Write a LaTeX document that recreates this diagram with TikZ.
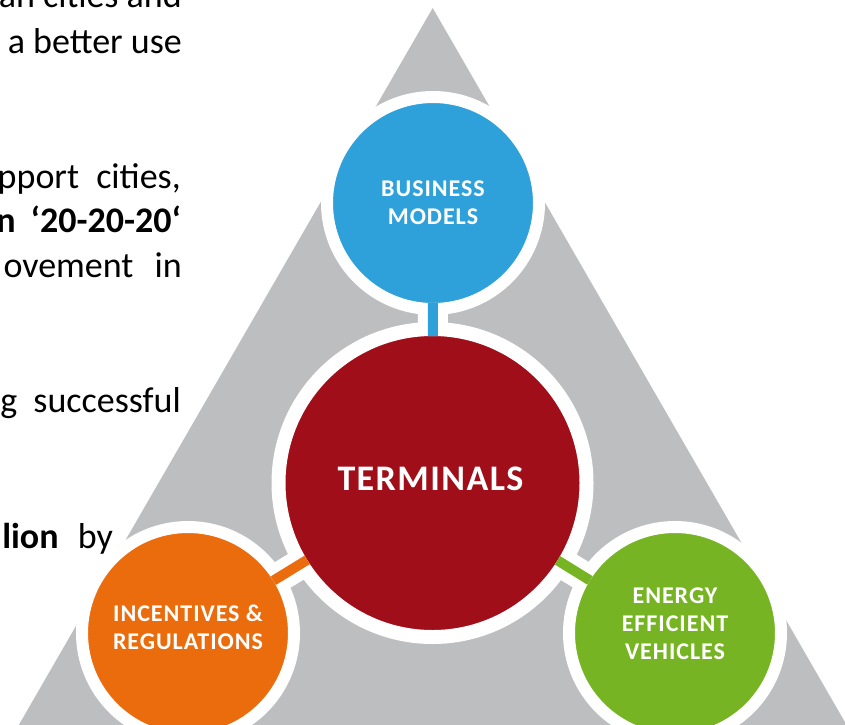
\documentclass[tikz,border=0pt]{standalone}
\usepackage{fontspec}
\setmainfont{Carlito}
\newfontfamily\ballfont[LetterSpace=4]{Carlito}
\usetikzlibrary{backgrounds}
\definecolor{trigray}{RGB}{189,190,192}
\definecolor{busblue}{RGB}{46,160,218}
\definecolor{termred}{RGB}{160,14,25}
\definecolor{incorange}{RGB}{235,108,12}
\definecolor{vehgreen}{RGB}{118,180,36}

\begin{document}
\begin{tikzpicture}[x=1pt, y=-1pt,
    ball/.style={circle, draw=white, line width=12pt, outer sep=-6pt, inner sep=0pt, minimum size=212pt},
    tag/.style={text=white, align=center, inner sep=0pt, font=\ballfont\bfseries\fontsize{24}{28}\selectfont},
    para/.style={anchor=base east, inner sep=0pt, font=\fontsize{36}{44}\selectfont}]
  \useasboundingbox (0,0) rectangle (845,724);

  % circles
  \node[ball, fill=termred, line width=14pt, outer sep=-7pt, minimum size=308pt] (terminals) at (432.5,483) {};
  \node[ball, fill=busblue] (business) at (433,203) {};
  \node[ball, fill=incorange] (incentives) at (188,633) {};
  \node[ball, fill=vehgreen] (vehicles) at (675,633) {};

  % links to the middle
  \foreach \sat/\col in {business/busblue, incentives/incorange, vehicles/vehgreen}
    \draw[\col, line width=10pt] (\sat) -- (terminals);

  \begin{scope}[on background layer]
    \fill[trigray] (432.7,8) -- (5.5,748) -- (859.9,748) -- cycle;
    \foreach \sat in {business, incentives, vehicles}
      \draw[white, line width=30pt] (\sat.center) -- (terminals.center);
  \end{scope}

  \node[tag, font=\ballfont\bfseries\fontsize{36}{40}\selectfont] (terminals-txt) at ([xshift=-2pt, yshift=4pt]terminals.center) {TERMINALS};
  \node[tag] (business-txt) at (business) {BUSINESS\\MODELS};
  \node[tag] (incentives-txt) at ([yshift=6pt]incentives.center) {INCENTIVES \&\\REGULATIONS};
  \node[tag] (vehicles-txt) at ([yshift=9pt]vehicles.center) {ENERGY\\EFFICIENT\\VEHICLES};

  % text cut off at the left
  \node[para] (line1) at (182,7) {an cities and};
  \node[para] (line2) at (182,53) {a better use};
  \node[para] (line3) at (181,188) {pport\hspace{9pt} cities,};
  \node[para, font=\bfseries\fontsize{36}{44}\selectfont] (line4) at (181,232) {n\hspace{7pt} ‘20-20-20‘};
  \node[para] (line5) at (182,277) {ovement\hspace{13pt} in};
  \node[para] (line6) at (181,412) {g\hspace{8pt} successful};
  \node[para] (line7) at (113,548) {\textbf{lion}\hspace{11pt} by};
\end{tikzpicture}
\end{document}
